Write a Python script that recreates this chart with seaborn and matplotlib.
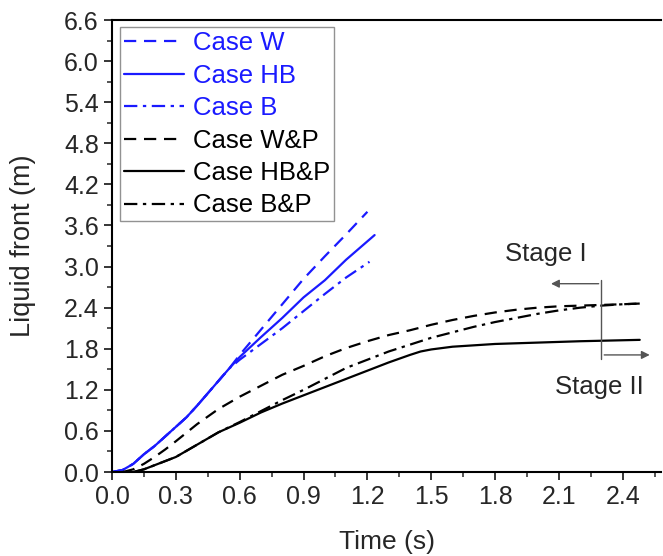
import numpy as np
import pandas as pd
import matplotlib
matplotlib.use("Agg")
import matplotlib.pyplot as plt
from matplotlib.ticker import MultipleLocator, FormatStrFormatter
import seaborn as sns

# ---- data ----
t_blue_common = [0.0, 0.05, 0.1, 0.15, 0.2, 0.25, 0.3, 0.35, 0.4, 0.45, 0.5, 0.55]
y_blue_common = [0.0, 0.03, 0.12, 0.26, 0.38, 0.52, 0.66, 0.80, 0.97, 1.15, 1.33, 1.51]

t_w = [0.6, 0.7, 0.8, 0.9, 1.0, 1.1, 1.2]
y_w = [1.71, 2.08, 2.45, 2.82, 3.15, 3.47, 3.80]
t_hb = [0.6, 0.7, 0.8, 0.9, 1.0, 1.1, 1.234]
y_hb = [1.68, 1.97, 2.25, 2.55, 2.80, 3.10, 3.46]
t_b = [0.6, 0.7, 0.8, 0.9, 1.0, 1.1, 1.21]
y_b = [1.64, 1.87, 2.10, 2.35, 2.60, 2.84, 3.07]

t_wp = [0.05, 0.1, 0.15, 0.2, 0.25, 0.3, 0.4, 0.5, 0.6, 0.7, 0.8, 0.9, 1.0, 1.1, 1.2,
        1.3, 1.4, 1.5, 1.6, 1.7, 1.8, 1.9, 2.0, 2.1, 2.2, 2.3, 2.4, 2.48]
y_wp = [0.0, 0.04, 0.12, 0.22, 0.33, 0.45, 0.70, 0.92, 1.10, 1.26, 1.42, 1.55, 1.69, 1.81, 1.91,
        2.00, 2.07, 2.15, 2.22, 2.28, 2.33, 2.37, 2.40, 2.42, 2.43, 2.44, 2.45, 2.46]

t_bp = [0.1, 0.15, 0.2, 0.3, 0.4, 0.5, 0.6, 0.7, 0.8, 0.9, 1.0, 1.1, 1.2, 1.3, 1.4,
        1.5, 1.6, 1.7, 1.8, 1.9, 2.0, 2.1, 2.2, 2.3, 2.4, 2.48]
y_bp = [0.0, 0.04, 0.10, 0.22, 0.40, 0.58, 0.73, 0.89, 1.05, 1.20, 1.36, 1.52, 1.64, 1.76, 1.86,
        1.96, 2.04, 2.12, 2.19, 2.25, 2.31, 2.36, 2.40, 2.43, 2.45, 2.46]

t_hbp = [0.1, 0.15, 0.2, 0.3, 0.4, 0.5, 0.6, 0.7, 0.8, 0.9, 1.0, 1.1, 1.2, 1.3, 1.4,
         1.45, 1.5, 1.6, 1.8, 2.0, 2.2, 2.48]
y_hbp = [0.0, 0.04, 0.10, 0.22, 0.40, 0.58, 0.72, 0.87, 1.00, 1.12, 1.24, 1.36, 1.48, 1.60, 1.71,
         1.76, 1.79, 1.83, 1.87, 1.89, 1.91, 1.93]

labels = ["Case W", "Case HB", "Case B", "Case W&P", "Case HB&P", "Case B&P"]

series = {
    "Case W": (t_blue_common + t_w, y_blue_common + y_w),
    "Case HB": (t_blue_common + t_hb, y_blue_common + y_hb),
    "Case B": (t_blue_common + t_b, y_blue_common + y_b),
    "Case W&P": (t_wp, y_wp),
    "Case HB&P": (t_hbp, y_hbp),
    "Case B&P": (t_bp, y_bp),
}

rows = []
for name, (tt, yy) in series.items():
    for a, b in zip(tt, yy):
        rows.append({"Time": a, "Front": b, "Case": name})
df = pd.DataFrame(rows)

BLUE = "#1a1aff"
colors = {"Case W": BLUE, "Case HB": BLUE, "Case B": BLUE,
          "Case W&P": "black", "Case HB&P": "black", "Case B&P": "black"}
dashes = {"Case W": (5.5, 3.5), "Case HB": "", "Case B": (6, 2.5, 1.5, 2.5),
          "Case W&P": (5.5, 3.5), "Case HB&P": "", "Case B&P": (6, 2.5, 1.5, 2.5)}

sns.set_style("ticks")
plt.rcParams["font.family"] = ["Liberation Sans", "DejaVu Sans"]

fig = plt.figure(figsize=(6.63, 5.56), dpi=100)
ax = fig.add_axes([0.169, 0.151, 0.828, 0.813])

sns.lineplot(data=df, x="Time", y="Front", hue="Case", style="Case",
             hue_order=labels, style_order=labels, palette=colors, dashes=dashes,
             linewidth=1.6, sort=False, estimator=None, ax=ax)

ax.set_xlim(0, 2.58)
ax.set_ylim(0, 6.6)
ax.xaxis.set_major_locator(MultipleLocator(0.3))
ax.xaxis.set_minor_locator(MultipleLocator(0.15))
ax.yaxis.set_major_locator(MultipleLocator(0.6))
ax.yaxis.set_minor_locator(MultipleLocator(0.3))
ax.xaxis.set_major_formatter(FormatStrFormatter("%.1f"))
ax.yaxis.set_major_formatter(FormatStrFormatter("%.1f"))
ax.tick_params(axis="both", which="major", direction="out", length=6, width=1.3, labelsize=18, pad=3.5)
ax.tick_params(axis="both", which="minor", direction="out", length=3.5, width=1.1)
for s in ax.spines.values():
    s.set_linewidth(1.5)
    s.set_color("black")
ax.spines["right"].set_visible(False)

ax.set_xlabel("Time (s)", fontsize=19, labelpad=15)
ax.set_ylabel("Liquid front (m)", fontsize=19.5, labelpad=20)

leg = ax.legend(loc="upper left", bbox_to_anchor=(0.0146, 0.984), borderaxespad=0,
                fontsize=18.5, handlelength=2.35, handletextpad=0.34, labelspacing=0.33,
                borderpad=0.15, frameon=True, fancybox=False)
leg.get_frame().set_edgecolor("#777777")
leg.get_frame().set_linewidth(1.0)
for txt, lab in zip(leg.get_texts(), labels):
    txt.set_color(colors[lab])

# Stage annotations
gray = "#555555"
ax.plot([2.30, 2.30], [1.65, 2.81], color=gray, lw=1.0)
ax.annotate("", xy=(2.05, 2.75), xytext=(2.30, 2.75),
            arrowprops=dict(arrowstyle="-|>", color=gray, lw=1.0, mutation_scale=12))
ax.annotate("", xy=(2.54, 1.71), xytext=(2.30, 1.71),
            arrowprops=dict(arrowstyle="-|>", color=gray, lw=1.0, mutation_scale=12))
ax.text(2.04, 3.18, "Stage I", fontsize=18.5, ha="center", va="center")
ax.text(2.29, 1.24, "Stage II", fontsize=18.5, ha="center", va="center")

fig.savefig("out.png", dpi=100)
